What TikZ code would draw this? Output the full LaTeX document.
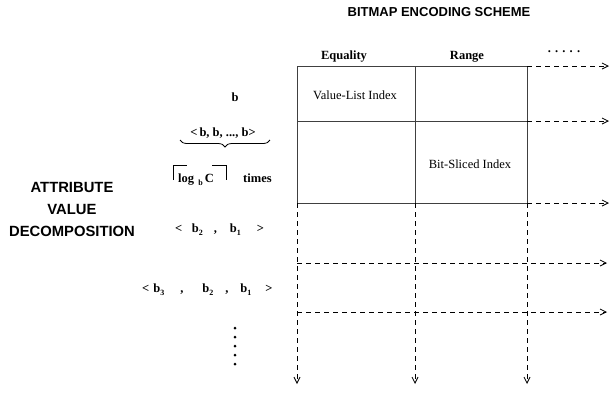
\documentclass[tikz,border=0pt]{standalone}
\usepackage{fontspec}
\setmainfont{Liberation Serif}
\setsansfont{Liberation Sans}
\usetikzlibrary{arrows.meta,decorations.pathreplacing}
\newcommand{\sbs}[1]{\raisebox{-3pt}{\fontsize{8}{9}\selectfont #1}}
\begin{document}
\begin{tikzpicture}[x=1pt,y=-1pt,
  hdr/.style={font=\fontsize{13}{15}\selectfont\sffamily\bfseries, inner sep=0pt},
  lbl/.style={font=\fontsize{12.5}{14}\selectfont\bfseries, inner sep=0pt},
  cell/.style={font=\fontsize{12.5}{14}\selectfont, inner sep=0pt},
  grid/.style={line width=1pt, draw=black!75},
  dline/.style={line width=0.8pt, dash pattern=on 5pt off 4pt},
  arr/.style={dline, -{Straight Barb[length=6pt,width=6pt,line width=0.8pt]}}]
\useasboundingbox (0,0) rectangle (610,392);
% title
\node[hdr] (title) at (439,12) {BITMAP ENCODING SCHEME};
\node[hdr, font=\fontsize{14.8}{22}\selectfont\sffamily\bfseries, align=center] (avd) at (72,209) {ATTRIBUTE\\VALUE\\DECOMPOSITION};
% grid coordinates
\coordinate (a1) at (297,66); \coordinate (b1) at (415,66); \coordinate (c1) at (527,66);
\coordinate (a2) at (297,121); \coordinate (b2) at (415,121); \coordinate (c2) at (527,121);
\coordinate (a3) at (297,203); \coordinate (b3) at (415,203); \coordinate (c3) at (527,203);
\coordinate (a4) at (297,263); \coordinate (a5) at (297,312);
\coordinate (ra1) at (609,66); \coordinate (ra2) at (609,121); \coordinate (ra3) at (609,203);
\coordinate (ra4) at (607,263); \coordinate (ra5) at (607,312);
\coordinate (da) at (297,384); \coordinate (db) at (415,384); \coordinate (dc) at (527,384);
% solid grid
\draw[grid] (a1) -- (c1) (a2) -- (c2) (a3) -- (c3);
\draw[grid] (a1) -- (a3) (b1) -- (b3) (c1) -- (c3);
% dashed arrows
\draw[arr] (c1) -- (ra1);
\draw[arr] (c2) -- (ra2);
\draw[arr] (c3) -- (ra3);
\draw[arr] (a4) -- (ra4);
\draw[arr] (a5) -- (ra5);
\draw[arr] (a3) -- (da);
\draw[arr] (b3) -- (db);
\draw[arr] (c3) -- (dc);
% headers
\node[lbl] (eq) at (344,57) {Equality};
\node[lbl] (rg) at (467,57) {Range};
\node[lbl] (more) at (564,52) {. . . . .};
\node[cell] (vli) at (355,95) {Value-List Index};
\node[cell] (bsi) at (470,164) {Bit-Sliced Index};
% left labels
\node[lbl] (b) at (235,97) {b};
\node[lbl] (bb) at (223,133) {<\,b, b, ..., b>};
\draw[line width=0.8pt, decorate, decoration={brace, amplitude=7pt}] (270,140) -- (180,140);
\node[lbl, anchor=base west] (log) at (178,182) {log\,\,\sbs{b}\,C};
\draw[line width=0.8pt] (173,180) -- (173,165) -- (187,165);
\draw[line width=0.8pt] (212,165) -- (226,165) -- (226,180);
\node[lbl, anchor=base west] (times) at (243,182) {times};
\node[lbl, anchor=base west] (l2) at (175,232) {<\hspace{9.5pt}b\sbs{2}\hspace{11pt},\hspace{13pt}b\sbs{1}\hspace{16pt}>};
\node[lbl, anchor=base west] (l3) at (142,292) {<\hspace{4pt}b\sbs{3}\hspace{16pt},\hspace{19pt}b\sbs{2}\hspace{12pt},\hspace{12pt}b\sbs{1}\hspace{14pt}>};
\foreach \i in {0,...,4} {\fill (235,{328+9*\i}) circle (1.5pt);}
\end{tikzpicture}
\end{document}
